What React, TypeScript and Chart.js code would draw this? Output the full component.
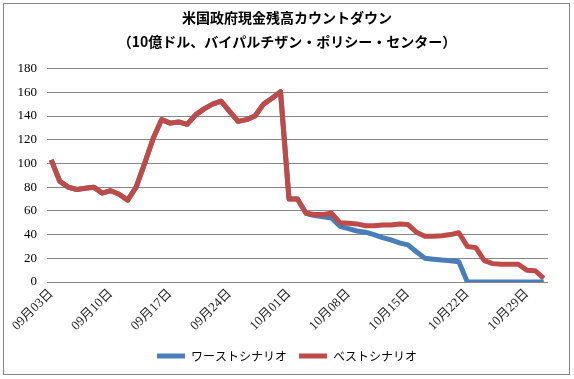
import React, { useEffect, useRef } from "react";
import { Chart, registerables } from "chart.js";

Chart.register(...registerables);

const titleLines = [
  "米国政府現金残高カウントダウン",
  "（10億ドル、バイパルチザン・ポリシー・センター）",
];

const dates = [
  "09月03日", "09月04日", "09月05日", "09月06日", "09月07日", "09月08日", "09月09日",
  "09月10日", "09月11日", "09月12日", "09月13日", "09月14日", "09月15日", "09月16日",
  "09月17日", "09月18日", "09月19日", "09月20日", "09月21日", "09月22日", "09月23日",
  "09月24日", "09月25日", "09月26日", "09月27日", "09月28日", "09月29日", "09月30日",
  "10月01日", "10月02日", "10月03日", "10月04日", "10月05日", "10月06日", "10月07日",
  "10月08日", "10月09日", "10月10日", "10月11日", "10月12日", "10月13日", "10月14日",
  "10月15日", "10月16日", "10月17日", "10月18日", "10月19日", "10月20日", "10月21日",
  "10月22日", "10月23日", "10月24日", "10月25日", "10月26日", "10月27日", "10月28日",
  "10月29日", "10月30日", "10月31日",
];

const bestCase = [
  103, 85, 80, 78, 79, 80, 75, 77, 74, 69,
  80, 100, 121, 137, 134, 135, 133, 141, 146, 150,
  152.5, 144, 135.5, 137, 140, 150, 155, 160.5, 70, 70,
  58, 57, 57, 58, 50, 49.5, 49, 47.5, 47.5, 48,
  48, 49, 48.5, 42, 38.5, 38.5, 39, 40, 41.5, 30,
  29, 18, 15.5, 15, 15, 15, 10, 9.5, 3,
];

const worstCase = [
  103, 85, 80, 78, 79, 80, 75, 77, 74, 69,
  80, 100, 121, 137, 134, 135, 133, 141, 146, 150,
  152.5, 144, 135.5, 137, 140, 150, 155, 160.5, 70, 70,
  58, 56, 55, 54, 47, 45, 43, 42, 40, 37.5,
  35.5, 33, 31.3, 25.5, 20, 19.2, 18.5, 18, 17, 0,
  0, 0, 0, 0, 0, 0, 0, 0, 0,
];

const yTicks = [0, 20, 40, 60, 80, 100, 120, 140, 160, 180];

const BLUE = "#4A7EBB";
const RED = "#BE4B48";
const GRID = "#868686";

export default function App() {
  const ref = useRef<HTMLCanvasElement | null>(null);

  useEffect(() => {
    if (!ref.current) return;
    const chart = new Chart(ref.current, {
      type: "line",
      data: {
        labels: dates,
        datasets: [
          {
            label: "ワーストシナリオ",
            data: worstCase,
            borderColor: BLUE,
            backgroundColor: BLUE,
            borderWidth: 5,
            pointRadius: 0,
            pointHoverRadius: 0,
            tension: 0,
            borderJoinStyle: "round",
            order: 1,
          },
          {
            label: "ベストシナリオ",
            data: bestCase,
            borderColor: RED,
            backgroundColor: RED,
            borderWidth: 5,
            pointRadius: 0,
            pointHoverRadius: 0,
            tension: 0,
            borderJoinStyle: "round",
            order: 0,
          },
        ],
      },
      options: {
        animation: false,
        responsive: false,
        maintainAspectRatio: false,
        layout: { padding: { left: 0, right: 0, top: 0, bottom: 7 } },
        plugins: {
          tooltip: { enabled: false },
          title: {
            display: true,
            text: titleLines,
            color: "#000",
            font: { family: "'Noto Sans CJK JP', sans-serif", size: 14, weight: "bold", lineHeight: 1.7 },
            padding: { top: 6, bottom: 15 },
          },
          legend: {
            position: "bottom",
            labels: {
              color: "#000",
              font: { family: "'Noto Sans CJK JP', sans-serif", size: 12 },
              usePointStyle: true,
              pointStyle: "line",
              pointStyleWidth: 28,
              boxHeight: 12,
              padding: 12,
              sort: (a: any, b: any) => a.datasetIndex - b.datasetIndex,
            },
          },
        },
        scales: {
          x: {
            offset: true,
            grid: { display: false, drawTicks: false },
            border: { display: false },
            afterFit: (s: any) => {
              s.height = 56;
            },
            ticks: {
              autoSkip: false,
              maxRotation: 45,
              minRotation: 45,
              padding: 4,
              color: "#222",
              font: { family: "'Liberation Serif', 'Noto Sans CJK JP', serif", size: 13 },
              callback: (_v: any, i: number) => (i % 7 === 0 ? dates[i] : ""),
            },
          },
          y: {
            min: 0,
            max: 180,
            afterFit: (s: any) => {
              s.width = 47;
            },
            afterBuildTicks: (s: any) => {
              s.ticks = yTicks.map((v) => ({ value: v }));
            },
            grid: { color: GRID, lineWidth: 1, drawTicks: false },
            border: { display: false },
            ticks: {
              padding: 10,
              color: "#000",
              font: { family: "'Liberation Serif', serif", size: 13 },
            },
          },
          yRight: {
            position: "right",
            min: 0,
            max: 180,
            grid: { display: false, drawTicks: false },
            border: { display: false },
            ticks: { display: false },
            afterFit: (s: any) => {
              s.width = 26;
            },
          },
        },
      },
    });
    return () => chart.destroy();
  }, []);

  return (
    <div style={{ position: "fixed", left: 0, top: 0, width: 574, height: 379, background: "#fff" }}>
      <div
        style={{
          position: "absolute",
          left: 3,
          top: 3,
          width: 565,
          height: 370,
          border: "1px solid #868686",
        }}
      />
      <canvas ref={ref} width={574} height={379} style={{ position: "absolute", left: 0, top: 0 }} />
    </div>
  );
}
